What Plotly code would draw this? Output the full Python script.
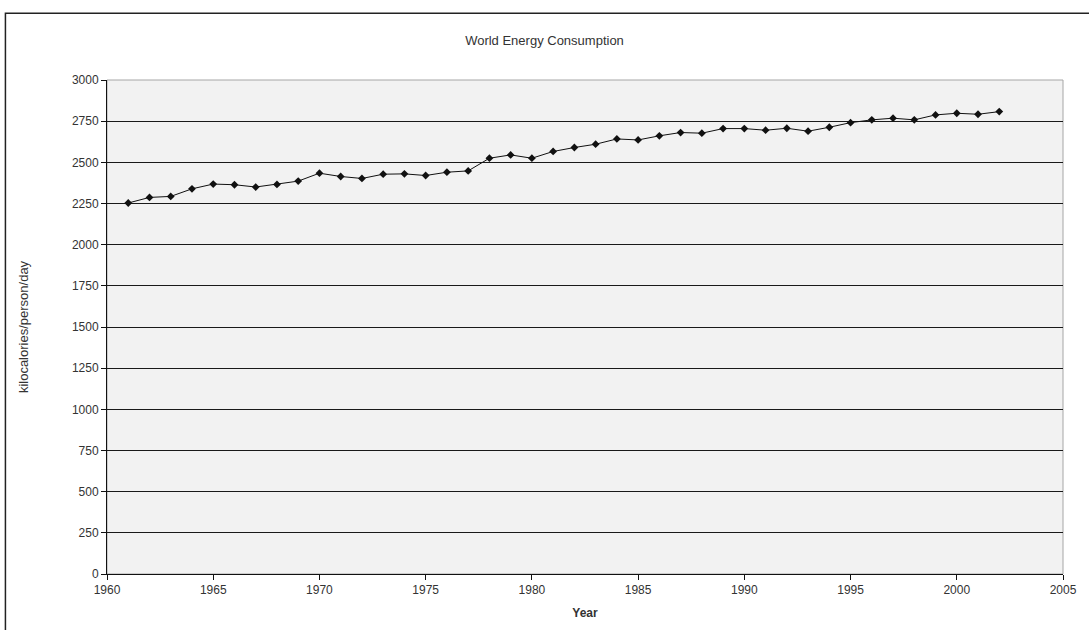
import plotly.graph_objects as go

years = list(range(1961, 2003))
kcal = [2253, 2287, 2293, 2339, 2368, 2364, 2350, 2366, 2386, 2434,
        2414, 2402, 2428, 2430, 2420, 2440, 2448, 2525, 2545, 2525,
        2566, 2590, 2610, 2642, 2636, 2661, 2681, 2677, 2705, 2705,
        2695, 2707, 2689, 2713, 2741, 2758, 2768, 2758, 2788, 2798,
        2792, 2808]

x_ticks = [1960, 1965, 1970, 1975, 1980, 1985, 1990, 1995, 2000, 2005]
y_ticks = list(range(0, 3001, 250))

title_text = "World Energy Consumption"
x_title = "Year"
y_title = "kilocalories/person/day"

FONT = "Liberation Sans, Arial, sans-serif"

fig = go.Figure()
fig.add_trace(go.Scatter(
    x=years, y=kcal, mode="lines+markers",
    line=dict(color="#111111", width=1),
    marker=dict(symbol="diamond", size=6, color="#111111"),
    showlegend=False,
))

fig.update_layout(
    width=1089, height=630,
    margin=dict(l=107, r=22, t=80, b=55),
    paper_bgcolor="white",
    plot_bgcolor="#f2f2f2",
    font=dict(family=FONT, size=12, color="#222222"),
    title=dict(text=title_text, x=0.5, xref="container", xanchor="center",
               y=1 - 40/630, yanchor="middle",
               font=dict(family=FONT, size=13, color="#333333")),
    xaxis=dict(
        range=[1960, 2005], tickvals=x_ticks, ticktext=[str(v) for v in x_ticks],
        showgrid=False, zeroline=False,
        showline=True, linecolor="#111111", linewidth=1, mirror=False,
        ticks="outside", ticklen=5, tickcolor="#111111",
        tickfont=dict(family=FONT, size=12, color="#333333"),
        title=dict(text="<b>" + x_title + "</b>", standoff=12,
                   font=dict(family=FONT, size=12, color="#333333")),
    ),
    yaxis=dict(
        range=[0, 3000], tickvals=y_ticks, ticktext=[str(v) for v in y_ticks],
        showgrid=True, gridcolor="#1a1a1a", gridwidth=1.2, zeroline=False,
        showline=True, linecolor="#111111", linewidth=1,
        ticks="outside", ticklen=5, tickcolor="#111111",
        tickfont=dict(family=FONT, size=12, color="#333333"),
        title=dict(text=y_title, standoff=40,
                   font=dict(family=FONT, size=13, color="#333333")),
    ),
)

# plot-area border (grey) on top and right
fig.add_shape(type="rect", xref="paper", yref="paper", x0=0, y0=0, x1=1, y1=1,
              line=dict(color="#a6a6a6", width=1), layer="below")
# outer chart border
fig.add_shape(type="rect", xref="paper", yref="paper",
              x0=(5 - 107) / 960, x1=1.2, y0=-0.3, y1=(575 - 13) / 495,
              line=dict(color="#222222", width=1.5))

fig.write_html("out.html")
